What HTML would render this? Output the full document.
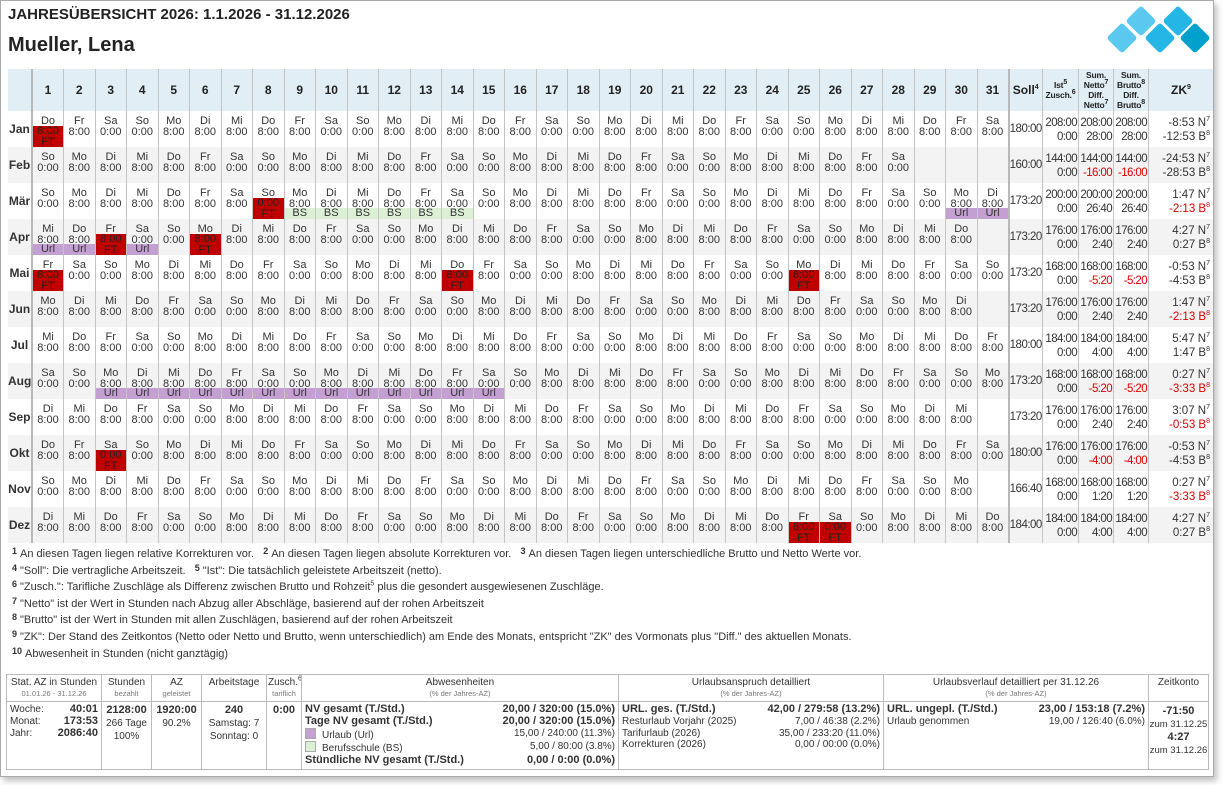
<!DOCTYPE html>
<html><head><meta charset="utf-8"><style>
body{margin:0;background:#fff;font-family:"Liberation Sans",sans-serif;color:#222;width:1227px;height:785px;overflow:hidden;position:relative}
.page{position:absolute;left:0;top:0;width:1212px;height:775px;border:1px solid #aaa;box-shadow:3px 4px 6px rgba(0,0,0,.25);background:#fff;overflow:hidden}
h1{position:absolute;left:7px;top:5px;margin:0;font-size:15px;font-weight:bold;color:#222}
h2{position:absolute;left:7px;top:33px;margin:0;font-size:20px;font-weight:bold;color:#222}
table.m{position:absolute;left:7px;top:68px;border-collapse:collapse;table-layout:fixed;width:1205px;font-size:11px;line-height:11px}
table.m th{background:#e1eef5;height:42px;font-size:12px;border-left:1px solid #c4c4c4;padding:0}
table.m th.s{font-size:8.5px;line-height:10px;font-weight:bold;letter-spacing:-0.2px}
table.m td{height:36px;padding:5px 0 0 0;box-sizing:border-box;text-align:center;vertical-align:top;border-left:1px solid #c4c4c4;position:relative;color:#333;white-space:nowrap;overflow:hidden}
table.m tr.g td{background:#f3f3f3}
table.m td.mo{font-weight:bold;font-size:12px;border-left:none;vertical-align:middle;padding:0}
table.m th.mo{border-left:none}
table.m td.d1,table.m th.d1{border-left:2px solid #b8b8b8}
table.m td.sl,table.m th.sl{border-left:2px solid #b8b8b8}
table.m td.sl{vertical-align:middle;padding:0;font-size:11.5px;letter-spacing:-0.5px}
table.m td.r{text-align:right;padding:5px 1px 0 0;font-size:11.5px;line-height:14px;letter-spacing:-0.6px}
table.m td.zk{text-align:right;padding:5px 3px 0 0;font-size:11.5px;line-height:14px;color:#333}
.rd{color:#d00}
sup{font-size:7px;line-height:0}
i{position:absolute;left:0;right:0;top:15px;bottom:0;background:#c00000;font-style:normal;padding-top:0;line-height:10.5px;color:#222}
u{position:absolute;left:0;right:0;bottom:0;height:11px;background:#c39fd2;text-decoration:none;line-height:11px}
s{position:absolute;left:0;right:0;bottom:0;height:11px;background:#dcf0d6;text-decoration:none;line-height:11px}
.fn{position:absolute;left:11px;top:545px;font-size:11px;color:#333}
.fn div{height:16.6px;line-height:16.6px;white-space:nowrap}
.fn b{font-size:9px;position:relative;top:-3px;margin-right:3px;line-height:0}
table.f{position:absolute;left:5px;top:673px;border-collapse:collapse;table-layout:fixed;width:1202px;font-size:10px;color:#333}
table.f td{border:1px solid #bbb;vertical-align:top;padding:2px 3px;white-space:nowrap;overflow:hidden}
table.f tr.h td{text-align:center;height:21px;line-height:11px;padding:2px 1px}
.sm{font-size:7.5px;color:#777}
table.f .k{font-weight:bold;font-size:11px}
.row{display:flex;justify-content:space-between;line-height:11.8px;height:11.8px}
.sq{display:inline-block;width:9px;height:9px;border:1px solid #aaa;vertical-align:-1px;margin-right:6px}
</style></head><body><div class="page">
<h1>JAHRESÜBERSICHT 2026: 1.1.2026 - 31.12.2026</h1>
<h2>Mueller, Lena</h2>
<svg style="position:absolute;left:1100px;top:0" width="112" height="58" viewBox="0 0 112 58">
<g transform="translate(40,20) rotate(45)"><rect x="-11" y="-11" width="22" height="22" rx="3" fill="#5bc8ef"/></g>
<g transform="translate(77,20) rotate(45)"><rect x="-11" y="-11" width="22" height="22" rx="3" fill="#26b6e6"/></g>
<g transform="translate(21,37) rotate(45)"><rect x="-11" y="-11" width="22" height="22" rx="3" fill="#5bc8ef"/></g>
<g transform="translate(59,37) rotate(45)"><rect x="-11" y="-11" width="22" height="22" rx="3" fill="#26b6e6"/></g>
<g transform="translate(94,37) rotate(45)"><rect x="-11" y="-11" width="22" height="22" rx="3" fill="#00a0cc"/></g>
</svg>
<table class="m">
<colgroup><col style="width:24px"><col span="31" style="width:31.5px"><col style="width:34px"><col style="width:36px"><col style="width:35px"><col style="width:35px"><col style="width:64px"></colgroup>
<tr><th class="mo"></th><th class="d1">1</th><th>2</th><th>3</th><th>4</th><th>5</th><th>6</th><th>7</th><th>8</th><th>9</th><th>10</th><th>11</th><th>12</th><th>13</th><th>14</th><th>15</th><th>16</th><th>17</th><th>18</th><th>19</th><th>20</th><th>21</th><th>22</th><th>23</th><th>24</th><th>25</th><th>26</th><th>27</th><th>28</th><th>29</th><th>30</th><th>31</th><th class="sl">Soll<sup>4</sup></th><th class="s">Ist<sup>5</sup><br>Zusch.<sup>6</sup></th><th class="s">Sum.<br>Netto<sup>7</sup><br>Diff.<br>Netto<sup>7</sup></th><th class="s">Sum.<br>Brutto<sup>8</sup><br>Diff.<br>Brutto<sup>8</sup></th><th>ZK<sup>9</sup></th></tr>
<tr><td class="mo">Jan</td><td class="d1">Do<i>8:00<br>FT</i></td><td>Fr<br>8:00</td><td>Sa<br>0:00</td><td>So<br>0:00</td><td>Mo<br>8:00</td><td>Di<br>8:00</td><td>Mi<br>8:00</td><td>Do<br>8:00</td><td>Fr<br>8:00</td><td>Sa<br>0:00</td><td>So<br>0:00</td><td>Mo<br>8:00</td><td>Di<br>8:00</td><td>Mi<br>8:00</td><td>Do<br>8:00</td><td>Fr<br>8:00</td><td>Sa<br>0:00</td><td>So<br>0:00</td><td>Mo<br>8:00</td><td>Di<br>8:00</td><td>Mi<br>8:00</td><td>Do<br>8:00</td><td>Fr<br>8:00</td><td>Sa<br>0:00</td><td>So<br>0:00</td><td>Mo<br>8:00</td><td>Di<br>8:00</td><td>Mi<br>8:00</td><td>Do<br>8:00</td><td>Fr<br>8:00</td><td>Sa<br>8:00</td><td class="sl">180:00</td><td class="r">208:00<br>0:00</td><td class="r">208:00<br>28:00</td><td class="r">208:00<br>28:00</td><td class="zk rd">-8:53 N<sup>7</sup><br>-12:53 B<sup>8</sup></td></tr>
<tr class="g"><td class="mo">Feb</td><td class="d1">So<br>0:00</td><td>Mo<br>8:00</td><td>Di<br>8:00</td><td>Mi<br>8:00</td><td>Do<br>8:00</td><td>Fr<br>8:00</td><td>Sa<br>0:00</td><td>So<br>0:00</td><td>Mo<br>8:00</td><td>Di<br>8:00</td><td>Mi<br>8:00</td><td>Do<br>8:00</td><td>Fr<br>8:00</td><td>Sa<br>0:00</td><td>So<br>0:00</td><td>Mo<br>8:00</td><td>Di<br>8:00</td><td>Mi<br>8:00</td><td>Do<br>8:00</td><td>Fr<br>8:00</td><td>Sa<br>0:00</td><td>So<br>0:00</td><td>Mo<br>8:00</td><td>Di<br>8:00</td><td>Mi<br>8:00</td><td>Do<br>8:00</td><td>Fr<br>8:00</td><td>Sa<br>0:00</td><td></td><td></td><td></td><td class="sl">160:00</td><td class="r">144:00<br>0:00</td><td class="r">144:00<br><span class="rd">-16:00</span></td><td class="r">144:00<br><span class="rd">-16:00</span></td><td class="zk rd">-24:53 N<sup>7</sup><br>-28:53 B<sup>8</sup></td></tr>
<tr><td class="mo">Mär</td><td class="d1">So<br>0:00</td><td>Mo<br>8:00</td><td>Di<br>8:00</td><td>Mi<br>8:00</td><td>Do<br>8:00</td><td>Fr<br>8:00</td><td>Sa<br>8:00</td><td>So<i>0:00<br>FT</i></td><td>Mo<br>8:00<s>BS</s></td><td>Di<br>8:00<s>BS</s></td><td>Mi<br>8:00<s>BS</s></td><td>Do<br>8:00<s>BS</s></td><td>Fr<br>8:00<s>BS</s></td><td>Sa<br>0:00<s>BS</s></td><td>So<br>0:00</td><td>Mo<br>8:00</td><td>Di<br>8:00</td><td>Mi<br>8:00</td><td>Do<br>8:00</td><td>Fr<br>8:00</td><td>Sa<br>0:00</td><td>So<br>0:00</td><td>Mo<br>8:00</td><td>Di<br>8:00</td><td>Mi<br>8:00</td><td>Do<br>8:00</td><td>Fr<br>8:00</td><td>Sa<br>0:00</td><td>So<br>0:00</td><td>Mo<br>8:00<u>Url</u></td><td>Di<br>8:00<u>Url</u></td><td class="sl">173:20</td><td class="r">200:00<br>0:00</td><td class="r">200:00<br>26:40</td><td class="r">200:00<br>26:40</td><td class="zk">1:47 N<sup>7</sup><br><span class="rd">-2:13 B<sup>8</sup></span></td></tr>
<tr class="g"><td class="mo">Apr</td><td class="d1">Mi<br>8:00<u>Url</u></td><td>Do<br>8:00<u>Url</u></td><td>Fr<i>8:00<br>FT</i></td><td>Sa<br>0:00<u>Url</u></td><td>So<br>0:00</td><td>Mo<i>8:00<br>FT</i></td><td>Di<br>8:00</td><td>Mi<br>8:00</td><td>Do<br>8:00</td><td>Fr<br>8:00</td><td>Sa<br>0:00</td><td>So<br>0:00</td><td>Mo<br>8:00</td><td>Di<br>8:00</td><td>Mi<br>8:00</td><td>Do<br>8:00</td><td>Fr<br>8:00</td><td>Sa<br>0:00</td><td>So<br>0:00</td><td>Mo<br>8:00</td><td>Di<br>8:00</td><td>Mi<br>8:00</td><td>Do<br>8:00</td><td>Fr<br>8:00</td><td>Sa<br>0:00</td><td>So<br>0:00</td><td>Mo<br>8:00</td><td>Di<br>8:00</td><td>Mi<br>8:00</td><td>Do<br>8:00</td><td></td><td class="sl">173:20</td><td class="r">176:00<br>0:00</td><td class="r">176:00<br>2:40</td><td class="r">176:00<br>2:40</td><td class="zk">4:27 N<sup>7</sup><br>0:27 B<sup>8</sup></td></tr>
<tr><td class="mo">Mai</td><td class="d1">Fr<i>8:00<br>FT</i></td><td>Sa<br>0:00</td><td>So<br>0:00</td><td>Mo<br>8:00</td><td>Di<br>8:00</td><td>Mi<br>8:00</td><td>Do<br>8:00</td><td>Fr<br>8:00</td><td>Sa<br>0:00</td><td>So<br>0:00</td><td>Mo<br>8:00</td><td>Di<br>8:00</td><td>Mi<br>8:00</td><td>Do<i>8:00<br>FT</i></td><td>Fr<br>8:00</td><td>Sa<br>0:00</td><td>So<br>0:00</td><td>Mo<br>8:00</td><td>Di<br>8:00</td><td>Mi<br>8:00</td><td>Do<br>8:00</td><td>Fr<br>8:00</td><td>Sa<br>0:00</td><td>So<br>0:00</td><td>Mo<i>8:00<br>FT</i></td><td>Di<br>8:00</td><td>Mi<br>8:00</td><td>Do<br>8:00</td><td>Fr<br>8:00</td><td>Sa<br>0:00</td><td>So<br>0:00</td><td class="sl">173:20</td><td class="r">168:00<br>0:00</td><td class="r">168:00<br><span class="rd">-5:20</span></td><td class="r">168:00<br><span class="rd">-5:20</span></td><td class="zk rd">-0:53 N<sup>7</sup><br>-4:53 B<sup>8</sup></td></tr>
<tr class="g"><td class="mo">Jun</td><td class="d1">Mo<br>8:00</td><td>Di<br>8:00</td><td>Mi<br>8:00</td><td>Do<br>8:00</td><td>Fr<br>8:00</td><td>Sa<br>0:00</td><td>So<br>0:00</td><td>Mo<br>8:00</td><td>Di<br>8:00</td><td>Mi<br>8:00</td><td>Do<br>8:00</td><td>Fr<br>8:00</td><td>Sa<br>0:00</td><td>So<br>0:00</td><td>Mo<br>8:00</td><td>Di<br>8:00</td><td>Mi<br>8:00</td><td>Do<br>8:00</td><td>Fr<br>8:00</td><td>Sa<br>0:00</td><td>So<br>0:00</td><td>Mo<br>8:00</td><td>Di<br>8:00</td><td>Mi<br>8:00</td><td>Do<br>8:00</td><td>Fr<br>8:00</td><td>Sa<br>0:00</td><td>So<br>0:00</td><td>Mo<br>8:00</td><td>Di<br>8:00</td><td></td><td class="sl">173:20</td><td class="r">176:00<br>0:00</td><td class="r">176:00<br>2:40</td><td class="r">176:00<br>2:40</td><td class="zk">1:47 N<sup>7</sup><br><span class="rd">-2:13 B<sup>8</sup></span></td></tr>
<tr><td class="mo">Jul</td><td class="d1">Mi<br>8:00</td><td>Do<br>8:00</td><td>Fr<br>8:00</td><td>Sa<br>0:00</td><td>So<br>0:00</td><td>Mo<br>8:00</td><td>Di<br>8:00</td><td>Mi<br>8:00</td><td>Do<br>8:00</td><td>Fr<br>8:00</td><td>Sa<br>0:00</td><td>So<br>0:00</td><td>Mo<br>8:00</td><td>Di<br>8:00</td><td>Mi<br>8:00</td><td>Do<br>8:00</td><td>Fr<br>8:00</td><td>Sa<br>0:00</td><td>So<br>0:00</td><td>Mo<br>8:00</td><td>Di<br>8:00</td><td>Mi<br>8:00</td><td>Do<br>8:00</td><td>Fr<br>8:00</td><td>Sa<br>0:00</td><td>So<br>0:00</td><td>Mo<br>8:00</td><td>Di<br>8:00</td><td>Mi<br>8:00</td><td>Do<br>8:00</td><td>Fr<br>8:00</td><td class="sl">180:00</td><td class="r">184:00<br>0:00</td><td class="r">184:00<br>4:00</td><td class="r">184:00<br>4:00</td><td class="zk">5:47 N<sup>7</sup><br>1:47 B<sup>8</sup></td></tr>
<tr class="g"><td class="mo">Aug</td><td class="d1">Sa<br>0:00</td><td>So<br>0:00</td><td>Mo<br>8:00<u>Url</u></td><td>Di<br>8:00<u>Url</u></td><td>Mi<br>8:00<u>Url</u></td><td>Do<br>8:00<u>Url</u></td><td>Fr<br>8:00<u>Url</u></td><td>Sa<br>0:00<u>Url</u></td><td>So<br>0:00<u>Url</u></td><td>Mo<br>8:00<u>Url</u></td><td>Di<br>8:00<u>Url</u></td><td>Mi<br>8:00<u>Url</u></td><td>Do<br>8:00<u>Url</u></td><td>Fr<br>8:00<u>Url</u></td><td>Sa<br>0:00<u>Url</u></td><td>So<br>0:00</td><td>Mo<br>8:00</td><td>Di<br>8:00</td><td>Mi<br>8:00</td><td>Do<br>8:00</td><td>Fr<br>8:00</td><td>Sa<br>0:00</td><td>So<br>0:00</td><td>Mo<br>8:00</td><td>Di<br>8:00</td><td>Mi<br>8:00</td><td>Do<br>8:00</td><td>Fr<br>8:00</td><td>Sa<br>0:00</td><td>So<br>0:00</td><td>Mo<br>8:00</td><td class="sl">173:20</td><td class="r">168:00<br>0:00</td><td class="r">168:00<br><span class="rd">-5:20</span></td><td class="r">168:00<br><span class="rd">-5:20</span></td><td class="zk">0:27 N<sup>7</sup><br><span class="rd">-3:33 B<sup>8</sup></span></td></tr>
<tr><td class="mo">Sep</td><td class="d1">Di<br>8:00</td><td>Mi<br>8:00</td><td>Do<br>8:00</td><td>Fr<br>8:00</td><td>Sa<br>0:00</td><td>So<br>0:00</td><td>Mo<br>8:00</td><td>Di<br>8:00</td><td>Mi<br>8:00</td><td>Do<br>8:00</td><td>Fr<br>8:00</td><td>Sa<br>0:00</td><td>So<br>0:00</td><td>Mo<br>8:00</td><td>Di<br>8:00</td><td>Mi<br>8:00</td><td>Do<br>8:00</td><td>Fr<br>8:00</td><td>Sa<br>0:00</td><td>So<br>0:00</td><td>Mo<br>8:00</td><td>Di<br>8:00</td><td>Mi<br>8:00</td><td>Do<br>8:00</td><td>Fr<br>8:00</td><td>Sa<br>0:00</td><td>So<br>0:00</td><td>Mo<br>8:00</td><td>Di<br>8:00</td><td>Mi<br>8:00</td><td></td><td class="sl">173:20</td><td class="r">176:00<br>0:00</td><td class="r">176:00<br>2:40</td><td class="r">176:00<br>2:40</td><td class="zk">3:07 N<sup>7</sup><br><span class="rd">-0:53 B<sup>8</sup></span></td></tr>
<tr class="g"><td class="mo">Okt</td><td class="d1">Do<br>8:00</td><td>Fr<br>8:00</td><td>Sa<i>0:00<br>FT</i></td><td>So<br>0:00</td><td>Mo<br>8:00</td><td>Di<br>8:00</td><td>Mi<br>8:00</td><td>Do<br>8:00</td><td>Fr<br>8:00</td><td>Sa<br>0:00</td><td>So<br>0:00</td><td>Mo<br>8:00</td><td>Di<br>8:00</td><td>Mi<br>8:00</td><td>Do<br>8:00</td><td>Fr<br>8:00</td><td>Sa<br>0:00</td><td>So<br>0:00</td><td>Mo<br>8:00</td><td>Di<br>8:00</td><td>Mi<br>8:00</td><td>Do<br>8:00</td><td>Fr<br>8:00</td><td>Sa<br>0:00</td><td>So<br>0:00</td><td>Mo<br>8:00</td><td>Di<br>8:00</td><td>Mi<br>8:00</td><td>Do<br>8:00</td><td>Fr<br>8:00</td><td>Sa<br>0:00</td><td class="sl">180:00</td><td class="r">176:00<br>0:00</td><td class="r">176:00<br><span class="rd">-4:00</span></td><td class="r">176:00<br><span class="rd">-4:00</span></td><td class="zk rd">-0:53 N<sup>7</sup><br>-4:53 B<sup>8</sup></td></tr>
<tr><td class="mo">Nov</td><td class="d1">So<br>0:00</td><td>Mo<br>8:00</td><td>Di<br>8:00</td><td>Mi<br>8:00</td><td>Do<br>8:00</td><td>Fr<br>8:00</td><td>Sa<br>0:00</td><td>So<br>0:00</td><td>Mo<br>8:00</td><td>Di<br>8:00</td><td>Mi<br>8:00</td><td>Do<br>8:00</td><td>Fr<br>8:00</td><td>Sa<br>0:00</td><td>So<br>0:00</td><td>Mo<br>8:00</td><td>Di<br>8:00</td><td>Mi<br>8:00</td><td>Do<br>8:00</td><td>Fr<br>8:00</td><td>Sa<br>0:00</td><td>So<br>0:00</td><td>Mo<br>8:00</td><td>Di<br>8:00</td><td>Mi<br>8:00</td><td>Do<br>8:00</td><td>Fr<br>8:00</td><td>Sa<br>0:00</td><td>So<br>0:00</td><td>Mo<br>8:00</td><td></td><td class="sl">166:40</td><td class="r">168:00<br>0:00</td><td class="r">168:00<br>1:20</td><td class="r">168:00<br>1:20</td><td class="zk">0:27 N<sup>7</sup><br><span class="rd">-3:33 B<sup>8</sup></span></td></tr>
<tr class="g"><td class="mo">Dez</td><td class="d1">Di<br>8:00</td><td>Mi<br>8:00</td><td>Do<br>8:00</td><td>Fr<br>8:00</td><td>Sa<br>0:00</td><td>So<br>0:00</td><td>Mo<br>8:00</td><td>Di<br>8:00</td><td>Mi<br>8:00</td><td>Do<br>8:00</td><td>Fr<br>8:00</td><td>Sa<br>0:00</td><td>So<br>0:00</td><td>Mo<br>8:00</td><td>Di<br>8:00</td><td>Mi<br>8:00</td><td>Do<br>8:00</td><td>Fr<br>8:00</td><td>Sa<br>0:00</td><td>So<br>0:00</td><td>Mo<br>8:00</td><td>Di<br>8:00</td><td>Mi<br>8:00</td><td>Do<br>8:00</td><td>Fr<i>8:00<br>FT</i></td><td>Sa<i>0:00<br>FT</i></td><td>So<br>0:00</td><td>Mo<br>8:00</td><td>Di<br>8:00</td><td>Mi<br>8:00</td><td>Do<br>8:00</td><td class="sl">184:00</td><td class="r">184:00<br>0:00</td><td class="r">184:00<br>4:00</td><td class="r">184:00<br>4:00</td><td class="zk">4:27 N<sup>7</sup><br>0:27 B<sup>8</sup></td></tr>
</table>
<div class="fn">
<div><b>1</b>An diesen Tagen liegen relative Korrekturen vor. &nbsp;&nbsp;<b>2</b>An diesen Tagen liegen absolute Korrekturen vor. &nbsp;&nbsp;<b>3</b>An diesen Tagen liegen unterschiedliche Brutto und Netto Werte vor.</div>
<div><b>4</b>"Soll": Die vertragliche Arbeitszeit. &nbsp;&nbsp;<b>5</b>"Ist": Die tatsächlich geleistete Arbeitszeit (netto).</div>
<div><b>6</b>"Zusch.": Tarifliche Zuschläge als Differenz zwischen Brutto und Rohzeit<sup>5</sup> plus die gesondert ausgewiesenen Zuschläge.</div>
<div><b>7</b>"Netto" ist der Wert in Stunden nach Abzug aller Abschläge, basierend auf der rohen Arbeitszeit</div>
<div><b>8</b>"Brutto" ist der Wert in Stunden mit allen Zuschlägen, basierend auf der rohen Arbeitszeit</div>
<div><b>9</b>"ZK": Der Stand des Zeitkontos (Netto oder Netto und Brutto, wenn unterschiedlich) am Ende des Monats, entspricht "ZK" des Vormonats plus "Diff." des aktuellen Monats.</div>
<div><b>10</b>Abwesenheit in Stunden (nicht ganztägig)</div>
</div>
<table class="f">
<colgroup><col style="width:95px"><col style="width:50px"><col style="width:50px"><col style="width:65px"><col style="width:35px"><col style="width:317px"><col style="width:265px"><col style="width:265px"><col style="width:60px"></colgroup>
<tr class="h"><td>Stat. AZ in Stunden<br><span class="sm">01.01.26 - 31.12.26</span></td><td>Stunden<br><span class="sm">bezahlt</span></td><td>AZ<br><span class="sm">geleistet</span></td><td>Arbeitstage</td><td>Zusch.<sup>6</sup><br><span class="sm">tariflich</span></td><td>Abwesenheiten<br><span class="sm">(% der Jahres-AZ)</span></td><td>Urlaubsanspruch detailliert<br><span class="sm">(% der Jahres-AZ)</span></td><td>Urlaubsverlauf detailliert per 31.12.26<br><span class="sm">(% der Jahres-AZ)</span></td><td>Zeitkonto</td></tr>
<tr style="height:66px"><td style="line-height:12.5px"><div class="row"><span>Woche:</span><b class="k">40:01</b></div><div class="row"><span>Monat:</span><b class="k">173:53</b></div><div class="row"><span>Jahr:</span><b class="k">2086:40</b></div></td>
<td style="text-align:center;line-height:13px;padding:2px 0"><b class="k">2128:00</b><br>266 Tage<br>100%</td>
<td style="text-align:center;line-height:13px;padding:2px 0"><b class="k">1920:00</b><br>90.2%</td>
<td style="text-align:center;line-height:13px"><b class="k">240</b><br>Samstag: 7<br>Sonntag: 0</td>
<td style="text-align:center"><b class="k">0:00</b></td>
<td><div class="row k"><span>NV gesamt (T./Std.)</span><span>20,00 / 320:00 (15.0%)</span></div><div class="row k"><span>Tage NV gesamt (T./Std.)</span><span>20,00 / 320:00 (15.0%)</span></div><div class="row"><span><span class="sq" style="background:#c39fd2"></span>Urlaub (Url)</span><span>15,00 / 240:00 (11.3%)</span></div><div class="row" style="margin-top:2px"><span><span class="sq" style="background:#dcf0d6"></span>Berufsschule (BS)</span><span>5,00 / 80:00 (3.8%)</span></div><div class="row k" style="margin-top:2px"><span>Stündliche NV gesamt (T./Std.)</span><span>0,00 / 0:00 (0.0%)</span></div></td>
<td><div class="row k"><span>URL. ges. (T./Std.)</span><span>42,00 / 279:58 (13.2%)</span></div><div class="row"><span>Resturlaub Vorjahr (2025)</span><span>7,00 / 46:38 (2.2%)</span></div><div class="row"><span>Tarifurlaub (2026)</span><span>35,00 / 233:20 (11.0%)</span></div><div class="row"><span>Korrekturen (2026)</span><span>0,00 / 00:00 (0.0%)</span></div></td>
<td><div class="row k"><span>URL. ungepl. (T./Std.)</span><span>23,00 / 153:18 (7.2%)</span></div><div class="row"><span>Urlaub genommen</span><span>19,00 / 126:40 (6.0%)</span></div></td>
<td style="text-align:center;line-height:13px;padding:3px 0;font-size:9.5px"><b class="k">-71:50</b><br>zum 31.12.25<br><b class="k">4:27</b><br>zum 31.12.26</td></tr>
</table>
</div></body></html>
